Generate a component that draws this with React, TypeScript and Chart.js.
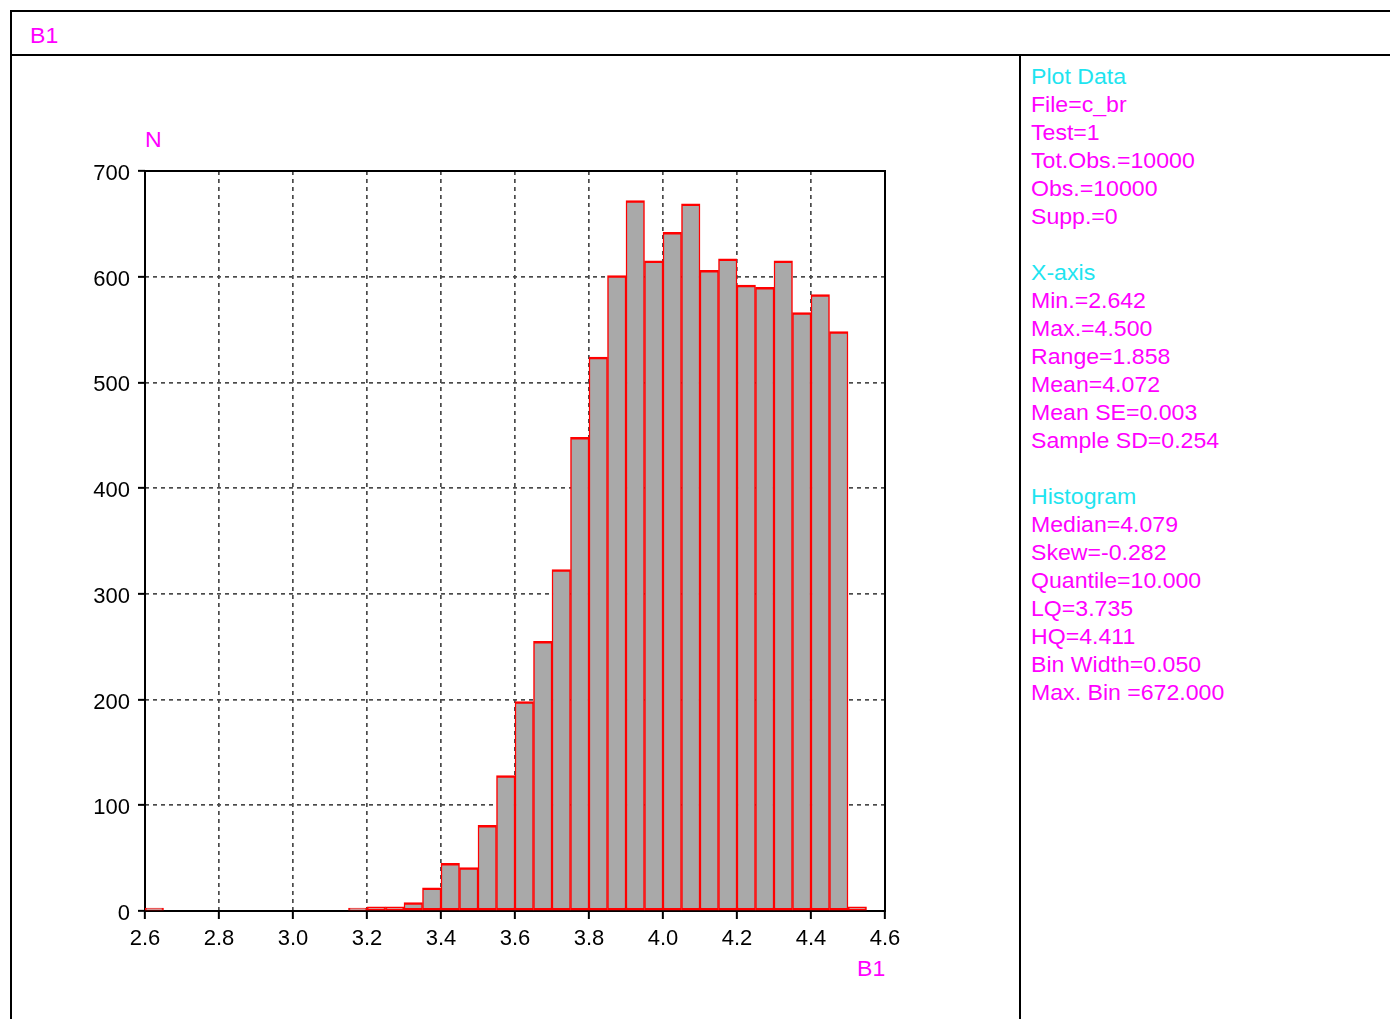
import React, { useEffect, useRef } from "react";
import { Chart, registerables } from "chart.js";

Chart.register(...registerables);

// ---- data ----
const binWidth = 0.05;
const binLower = [
  2.6, 3.15, 3.2, 3.25, 3.3, 3.35, 3.4, 3.45, 3.5, 3.55, 3.6, 3.65, 3.7, 3.75,
  3.8, 3.85, 3.9, 3.95, 4.0, 4.05, 4.1, 4.15, 4.2, 4.25, 4.3, 4.35, 4.4, 4.45, 4.5,
];
const counts = [
  1, 1, 4, 4, 8, 22, 45, 41, 81, 128, 198, 255, 323, 448, 524, 601, 672, 615,
  642, 669, 606, 617, 592, 590, 615, 566, 583, 548, 4,
];
const xMin = 2.6;
const xMax = 4.6;
const xStep = 0.2;
const yMin = 0;
const yMax = 700;
const yStep = 100;

const headerTitle = "B1";
const yAxisTitle = "N";
const xAxisTitle = "B1";

const plotDataTitle = "Plot Data";
const plotDataLines = ["File=c_br", "Test=1", "Tot.Obs.=10000", "Obs.=10000", "Supp.=0"];
const xAxisSectionTitle = "X-axis";
const xAxisLines = [
  "Min.=2.642",
  "Max.=4.500",
  "Range=1.858",
  "Mean=4.072",
  "Mean SE=0.003",
  "Sample SD=0.254",
];
const histTitle = "Histogram";
const histLines = [
  "Median=4.079",
  "Skew=-0.282",
  "Quantile=10.000",
  "LQ=3.735",
  "HQ=4.411",
  "Bin Width=0.050",
  "Max. Bin =672.000",
];

const MAGENTA = "#ff00ff";
const CYAN = "#1ee4f0";
const FONT = '"Liberation Sans", Arial, Helvetica, sans-serif';

const boxPlugin = {
  id: "plotBox",
  beforeDatasetsDraw(chart: any) {
    const { ctx, chartArea: a } = chart;
    ctx.save();
    ctx.strokeStyle = "#000";
    ctx.lineWidth = 2;
    ctx.strokeRect(a.left, a.top, a.right - a.left, a.bottom - a.top);
    ctx.restore();
  },
};

function Txt(props: { left: number; cy: number; color: string; text: string }) {
  return (
    <div
      style={{
        position: "absolute",
        left: props.left,
        top: props.cy - 14,
        height: 28,
        lineHeight: "28px",
        fontSize: 22,
        color: props.color,
        whiteSpace: "pre",
        transform: "scaleX(1.05)",
        transformOrigin: "left center",
      }}
    >
      {props.text}
    </div>
  );
}

export default function App() {
  const ref = useRef<HTMLCanvasElement>(null);

  useEffect(() => {
    const canvas = ref.current!;
    const isEdge = (v: number, lo: number, hi: number) =>
      Math.abs(v - lo) < 1e-6 || Math.abs(v - hi) < 1e-6;
    const chart = new Chart(canvas, {
      type: "bar",
      data: {
        datasets: [
          {
            data: binLower.map((l, i) => ({ x: l + binWidth / 2, y: counts[i] })),
            backgroundColor: "#a9a9a9",
            borderColor: "#ff0000",
            borderWidth: { top: 2.5, left: 1.5, right: 1.5, bottom: 2.5 },
            borderSkipped: false,
            barPercentage: 1,
            categoryPercentage: 1,
            minBarLength: 3,
          } as any,
        ],
      },
      options: {
        animation: false,
        responsive: false,
        devicePixelRatio: 1,
        layout: { padding: { top: 31, right: 30, bottom: 0, left: 0 } },
        plugins: {
          legend: { display: false },
          tooltip: { enabled: false },
          title: { display: false },
        },
        scales: {
          x: {
            type: "linear",
            min: xMin,
            max: xMax,
            offset: false,
            grid: {
              offset: false,
              color: (c: any) =>
                c.tick && isEdge(c.tick.value, xMin, xMax) ? "rgba(0,0,0,0)" : "#4a4a4a",
              lineWidth: 1.7,
              tickColor: "#000",
              tickWidth: 2,
              tickLength: 8,
              tickBorderDash: [],
            },
            border: { display: false, dash: [4, 4] },
            ticks: {
              stepSize: xStep,
              color: "#000",
              padding: 7,
              maxRotation: 0,
              autoSkip: false,
              font: { family: FONT, size: 22 },
              callback: (v: any) => Number(v).toFixed(1),
            },
            afterFit: (s: any) => {
              s.height = 60;
            },
          },
          y: {
            type: "linear",
            min: yMin,
            max: yMax,
            grid: {
              color: (c: any) =>
                c.tick && isEdge(c.tick.value, yMin, yMax) ? "rgba(0,0,0,0)" : "#4a4a4a",
              lineWidth: 1.7,
              tickColor: "#000",
              tickWidth: 2,
              tickLength: 7,
              tickBorderDash: [],
            },
            border: { display: false, dash: [4, 4] },
            ticks: {
              stepSize: yStep,
              color: "#000",
              padding: 8,
              labelOffset: 3,
              font: { family: FONT, size: 22 },
            },
            afterFit: (s: any) => {
              s.width = 95;
            },
          },
        },
      } as any,
      plugins: [boxPlugin],
    });
    return () => chart.destroy();
  }, []);

  const panelLines: { text: string; color: string; idx: number }[] = [];
  let idx = 0;
  panelLines.push({ text: plotDataTitle, color: CYAN, idx: idx++ });
  plotDataLines.forEach((t) => panelLines.push({ text: t, color: MAGENTA, idx: idx++ }));
  idx++;
  panelLines.push({ text: xAxisSectionTitle, color: CYAN, idx: idx++ });
  xAxisLines.forEach((t) => panelLines.push({ text: t, color: MAGENTA, idx: idx++ }));
  idx++;
  panelLines.push({ text: histTitle, color: CYAN, idx: idx++ });
  histLines.forEach((t) => panelLines.push({ text: t, color: MAGENTA, idx: idx++ }));

  return (
    <div
      style={{
        position: "fixed",
        left: 0,
        top: 0,
        width: 1390,
        height: 1019,
        overflow: "hidden",
        background: "#fff",
        fontFamily: FONT,
      }}
    >
      {/* frame lines */}
      <div style={{ position: "absolute", left: 10, top: 10, width: 1400, height: 2, background: "#000" }} />
      <div style={{ position: "absolute", left: 10, top: 10, width: 2, height: 1020, background: "#000" }} />
      <div style={{ position: "absolute", left: 10, top: 54, width: 1400, height: 2, background: "#000" }} />
      <div style={{ position: "absolute", left: 1019, top: 54, width: 2, height: 980, background: "#000" }} />

      <Txt left={30} cy={36} color={MAGENTA} text={headerTitle} />
      <Txt left={145} cy={140} color={MAGENTA} text={yAxisTitle} />
      <Txt left={857} cy={969} color={MAGENTA} text={xAxisTitle} />

      {panelLines.map((l) => (
        <Txt key={l.idx} left={1031} cy={77 + l.idx * 28} color={l.color} text={l.text} />
      ))}

      <canvas
        ref={ref}
        width={865}
        height={831}
        style={{ position: "absolute", left: 50, top: 140, width: 865, height: 831 }}
      />
    </div>
  );
}
